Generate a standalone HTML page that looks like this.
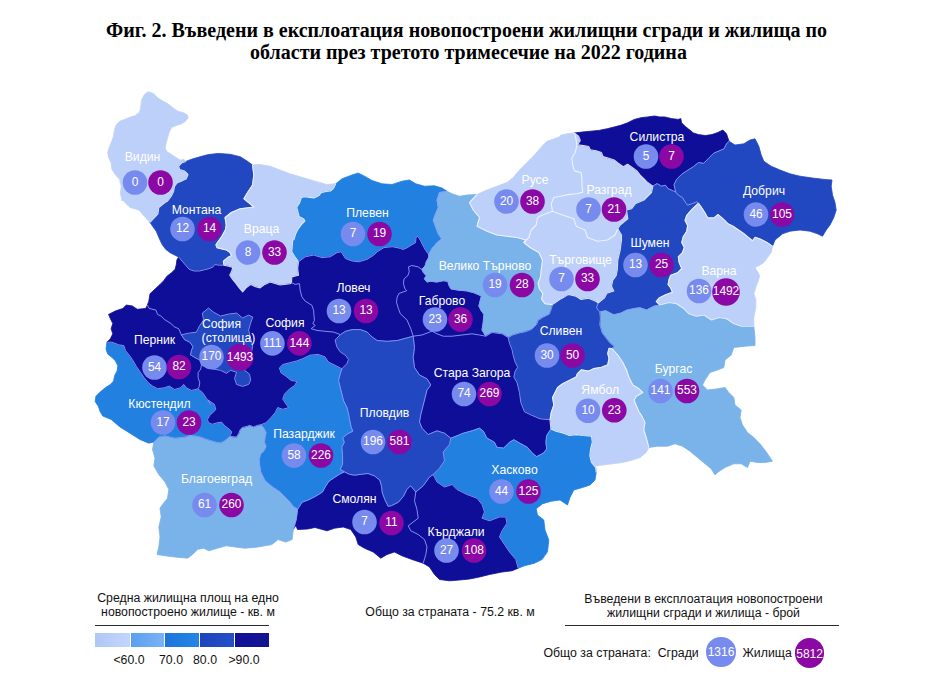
<!DOCTYPE html>
<html><head><meta charset="utf-8"><style>
html,body{margin:0;padding:0;background:#fff}
body{width:947px;height:687px;position:relative;overflow:hidden;font-family:"Liberation Sans",sans-serif}
.t{position:absolute;left:0;width:947px;text-align:center;font-family:"Liberation Serif",serif;font-weight:bold;font-size:20px;color:#000;white-space:nowrap}
svg{position:absolute;left:0;top:0}
.r{stroke-width:.8;stroke-linejoin:round}
.c1{fill:#bdd0f9;stroke:#bdd0f9}.c2{fill:#79b3ea;stroke:#79b3ea}.c3{fill:#2180e0;stroke:#2180e0}.c4{fill:#2148c0;stroke:#2148c0}.c5{fill:#0e0e98;stroke:#0e0e98}
.bd{fill:none;stroke:#8c9af8;stroke-opacity:.9;stroke-width:1;stroke-linejoin:round}
.bl{fill:none;stroke:#f4f7ff;stroke-opacity:.85;stroke-width:1.1;stroke-linejoin:round}
.k1{fill:#778bef}.k2{fill:#8c08a4}
.lb{font-size:12.2px;fill:#fff;text-anchor:middle}
.nm{font-size:11.9px;fill:#fff;text-anchor:middle}
.s{position:absolute;font-size:12.3px;color:#111;white-space:nowrap;text-align:center}
.ln{position:absolute;height:1.3px;background:#2b2b2b}
.sw{position:absolute;top:633px;height:14px}
.cc{position:absolute;border-radius:50%;color:#fff;font-size:12px;text-align:center}
</style></head><body>
<div class="t" style="top:18.5px;left:-7px">Фиг. 2. Въведени в експлоатация новопостроени жилищни сгради и жилища по</div>
<div class="t" style="top:40.5px;left:-5px">области през третото тримесечие на 2022 година</div>
<svg width="947" height="687" viewBox="0 0 947 687" font-family="Liberation Sans, sans-serif">
<polygon class="r c1" points="185.9,161.4 182.1,162.7 178.7,166.1 179.5,169.5 184.6,171.1 188,174.5 186.3,178.8 181.2,181.3 177,183 174.5,186.4 173.6,191.4 171.1,196.5 167.7,201 165,202.5 158.8,207.5 158,213.8 150,222.5 138.8,210 130,207.5 122.5,200 122.1,201 120.4,193.1 121.2,186.4 119.6,179.6 115.3,174.5 112,169.5 111.1,162.7 108.6,157.6 107.7,152.6 109.4,146.7 112,140.7 113.6,135.7 114.5,129.8 116.2,124.7 119.6,121.3 126.3,118.8 130.5,117.1 135.6,115.4 139.8,112 140.7,107 141.5,100.2 144.1,95.1 146.6,92.6 148.3,91.8 153.3,93.4 157.6,97.7 162.6,101 167.7,103.6 172.8,107.8 177.8,111.2 183.8,112.9 187.6,115.1 188,117.9 185.4,121.3 181.2,123.9 176.1,125.5 171.9,127.2 169.4,131.5 167.7,137.4 166,143.3 165.2,148.3 166.9,151.7 171.1,154.3 176.1,157.6 180.4,160.2 183.8,159.3"/>
<polygon class="r c4" points="150,222.5 158,213.8 158.8,207.5 165,202.5 167.7,201 171.1,196.5 173.6,191.4 174.5,186.4 177,183 181.2,181.3 186.3,178.8 188,174.5 184.6,171.1 179.5,169.5 178.7,166.1 182.1,162.7 185.9,161.4 191.4,159.3 199.8,156.8 208.2,154.6 218.4,153.4 230.2,154.3 240.3,156.8 247.1,161 252.5,165 253.8,175 252.5,185 247.5,192.5 243.8,198.8 250,203.8 253.8,207 240,208.8 231.2,212.5 225,217.5 226.2,225 225.4,229.7 221.7,236.6 218.2,241.3 215.9,244.8 217,247.7 221.7,248.9 226.4,250 229.8,252.4 231.6,255.5 227.5,257.6 223.4,261.1 223.8,265.2 219.4,265.2 214.7,264.6 213,266.9 208.9,268.7 204.2,269.8 199.6,271 193.8,271 189.1,269.2 185.6,265.2 182.1,261.1 178.6,257 175.1,255.3 170.5,252.9 165.8,249.4 162.3,244.8 160,240.1 156.2,231.2"/>
<polygon class="r c1" points="223.8,265.2 223.4,261.1 227.5,257.6 231.6,255.5 229.8,252.4 226.4,250 221.7,248.9 217,247.7 215.9,244.8 218.2,241.3 221.7,236.6 225.4,229.7 226.2,225 225,217.5 231.2,212.5 240,208.8 253.8,207 250,203.8 243.8,198.8 247.5,192.5 252.5,185 253.8,175 252.5,165 260,164.5 270,166.2 280,170 290,173.8 302.5,177.5 315,181.2 326.8,184.5 335.8,183.8 333.4,188.6 330.5,191 325.9,191.5 321.2,192.7 318.9,195.6 314.2,197.9 309.6,197.4 304.9,196.8 301.4,197.4 299.7,202.6 296.8,207.3 297.9,211.9 299.1,216.6 303.8,218.9 304.9,221.2 301.4,224.7 297.9,229.4 295.6,234 293.9,239.8 292.7,240 291.8,251.8 294.9,256.8 298.5,261.8 297.7,268.5 298.5,275.2 291.8,276.9 291.5,282.7 290,283.8 280,285 270,282 264.8,284.4 260.1,287.9 255.5,286.7 250.8,284.4 246.1,287.9 242.7,291.9 239.2,287.9 235.7,283.2 232.8,279.7 229.8,275.1 231.6,271.6 232.8,267.5 228.7,266.3"/>
<polygon class="r c3" points="298.5,261.8 294.9,256.8 291.8,251.8 292.7,240 293.9,239.8 295.6,234 297.9,229.4 301.4,224.7 304.9,221.2 303.8,218.9 299.1,216.6 297.9,211.9 296.8,207.3 299.7,202.6 301.4,197.4 304.9,196.8 309.6,197.4 314.2,197.9 318.9,195.6 321.2,192.7 325.9,191.5 330.5,191 333.4,188.6 335.8,183.8 342,178.8 352,175 358.2,173 364.5,176.2 372,180.5 382,183.8 392,184.5 402,181.2 409.5,180 415.8,183.8 424.5,186.2 434.5,185.8 442,188 447,191.2 439.5,192.5 437,200 438.2,207.5 435.7,213.5 433.2,220.3 435.7,227 438.2,233.8 441.6,238.9 437.4,242.2 432.3,248.1 428.7,254.5 425.6,250.3 423.1,245.8 420.6,240.8 418,236.3 416.1,237 415.5,242.7 411.1,245.2 407.2,247.7 402.8,249.6 400.6,248.4 392.3,246.7 383.9,247.6 377.2,251.8 373.8,255.1 367.2,259.3 358.8,261.8 352.1,261 345.4,258.5 341.2,251.8 337,252.6 330.3,256.8 322,257.6 313.6,255.1 305.2,256.8"/>
<polygon class="r c5" points="298.5,261.8 305.2,256.8 313.6,255.1 322,257.6 330.3,256.8 337,252.6 341.2,251.8 345.4,258.5 352.1,261 358.8,261.8 367.2,259.3 373.8,255.1 377.2,251.8 383.9,247.6 392.3,246.7 400.6,248.4 402.8,249.6 407.2,247.7 411.1,245.2 415.5,242.7 416.1,237 418,236.3 420.6,240.8 423.1,245.8 425.6,250.3 428.7,254.5 428.8,257.2 426.3,261.7 425,266.1 421.8,269.3 418,266.8 411.7,265.5 408.5,266.8 409.2,271.8 407.9,275.6 404.1,278.8 403.4,283.2 404.7,288.3 406.6,290.8 399,293.4 397.1,297.2 396.5,302.2 398.4,308.6 400.3,313.7 407,320 410.8,328.8 413.2,336.2 397.3,340.5 387.2,341.3 377.2,340.5 372.2,337.1 367.2,332.1 360.5,329.6 352.1,329.6 345.4,331.3 340.4,334.6 333.7,332.1 325.3,331.3 316.9,330.4 311.1,328.7 315.3,325.4 312.8,323.7 314.4,320.4 313.6,310.3 311.9,305.3 305.2,301.1 301.9,296.9 300.2,290.3 299.4,283.6 295.2,284.4 291.5,282.7 291.8,276.9 298.5,275.2 297.7,268.5"/>
<polygon class="r c5" points="413.2,336.2 410.8,328.8 407,320 400.3,313.7 398.4,308.6 396.5,302.2 397.1,297.2 399,293.4 406.6,290.8 404.7,288.3 403.4,283.2 404.1,278.8 407.9,275.6 409.2,271.8 408.5,266.8 411.7,265.5 418,266.8 421.8,269.3 423.7,273.1 426.3,275.6 424.4,278.8 426.9,282 430.7,281.3 437,282 443.4,280.7 447.8,281.3 449.1,285.8 451,288.9 458.6,290.2 466.2,290.8 473.8,292.7 481.4,295.9 480.1,301 478.9,306 481.4,311.1 483.9,314.3 483.2,322.5 482,330 485.8,336.2 479.5,335 472,333.8 462,335 452,336.2 443.2,336.2 437,333.8 432,331.2 422,335"/>
<polygon class="r c2" points="428.7,254.5 432.3,248.1 437.4,242.2 441.6,238.9 438.2,233.8 435.7,227 433.2,220.3 435.7,213.5 438.2,207.5 437,200 439.5,192.5 447,191.2 452,193.8 459.5,196.2 467,195 477,194.5 469.5,202.5 473.2,210 479.5,217.5 477,226.2 487,231.2 497,235 507,236.2 517,237.5 525.8,240 523.8,242.5 530,247.5 538.8,252.5 542.5,260 541.2,270 540.5,277 538.1,282.8 539.3,288.6 542.8,293.3 541.6,299.1 545.1,303.8 552.5,304.6 551.3,309 549.4,314.1 543.1,317.2 538,320.4 536.8,324.2 531.7,329.3 525.3,331.8 519,333.1 512.7,335 508.2,337.5 502,333.8 492,332.5 485.8,336.2 482,330 483.2,322.5 483.9,314.3 481.4,311.1 478.9,306 480.1,301 481.4,295.9 473.8,292.7 466.2,290.8 458.6,290.2 451,288.9 449.1,285.8 447.8,281.3 443.4,280.7 437,282 430.7,281.3 426.9,282 424.4,278.8 426.3,275.6 423.7,273.1 421.8,269.3 425,266.1 426.3,261.7 428.8,257.2"/>
<polygon class="r c1" points="523.8,242.5 525.8,240 517,237.5 507,236.2 497,235 487,231.2 477,226.2 479.5,217.5 473.2,210 469.5,202.5 477,194.5 487,190 497,186.2 507,182.5 513.2,177.5 519.5,170 527,162.5 534.5,155 542,146.2 547,141.2 554.5,138.8 563.8,135 560,135.5 566.8,133.8 574.4,132.9 576,138.9 576.9,145.6 575.2,152.4 571.8,158.3 572.7,165 574.4,170.9 581.1,172.6 582,179.4 582,186.1 582.8,192.1 576.9,193.8 568.4,194.6 553.8,197.5 551.2,203.8 552.5,211.2 542.5,215 537.5,217.5 536.2,225 531.2,230 528.8,237.5"/>
<polygon class="r c1" points="552.5,211.2 551.2,203.8 553.8,197.5 568.4,194.6 576.9,193.8 582.8,192.1 582,186.1 582,179.4 581.1,172.6 574.4,170.9 572.7,165 571.8,158.3 575.2,152.4 576.9,145.6 576,138.9 574.4,132.9 578.6,136.3 580.3,140.5 577.7,144.8 583.6,145.6 588.7,146.5 590.4,149.8 596.3,150.7 601.4,152.4 603.1,156.6 609,158.3 614.1,160 618.3,163.3 623.3,166.7 627.6,164.2 632.6,167.6 636.9,170.9 640.2,175.2 643.6,178.5 647,181.9 650.4,184.5 652.9,186.1 651.5,192.5 644,200 635.2,203.8 631.5,208.8 626.5,210 627.8,218.8 620.2,225 617.8,228.8 615,235 607.5,240 597.5,241.2 587.5,237.5 585,230 576.2,226.2 573.8,218.8 562.5,215"/>
<polygon class="r c1" points="523.8,242.5 528.8,237.5 531.2,230 536.2,225 537.5,217.5 542.5,215 552.5,211.2 562.5,215 573.8,218.8 576.2,226.2 585,230 587.5,237.5 597.5,241.2 607.5,240 615,235 617.8,228.8 621.5,235 621.5,240 620.2,250 617.8,260 617.3,270 616.1,275.8 612.7,280.5 611.5,286.3 613.8,291 606.8,293.3 604.5,297.9 598.1,303 596.3,301.4 588.7,298.2 581.1,299.5 576,296.3 568.4,294.4 563.4,297.6 559.6,299.5 552.5,304.6 545.1,303.8 541.6,299.1 542.8,293.3 539.3,288.6 538.1,282.8 540.5,277 541.2,270 542.5,260 538.8,252.5 530,247.5"/>
<polygon class="r c5" points="652.9,186.1 650.4,184.5 647,181.9 643.6,178.5 640.2,175.2 636.9,170.9 632.6,167.6 627.6,164.2 623.3,166.7 618.3,163.3 614.1,160 609,158.3 603.1,156.6 601.4,152.4 596.3,150.7 590.4,149.8 588.7,146.5 583.6,145.6 577.7,144.8 580.3,140.5 578.6,136.3 574.4,132.9 582,132.1 590.4,131.2 598.9,130.4 607.3,128.7 614.1,127 620.8,125.3 627.6,122.8 634.3,119.4 641.1,117.7 647.8,116.9 654.6,116 659.7,116.9 664.7,116.9 671.5,118.6 678.2,119.4 680.8,118.6 681.6,122.8 685,126.2 689.2,129.6 693.4,132.9 698.5,134.6 705.3,135.5 712,134.6 717.8,132.5 722.8,130 726.5,133.8 729,141.2 726.5,143.8 724,148.8 713.7,153.2 708.6,158.3 703.6,163.3 698.5,162.5 693.4,166.7 686.7,170.9 681.6,174.3 676.6,179.4 674,184.5 675.7,192.1 672.3,190.4 668.1,188.7 665.6,185.3 661.4,186.1 657.1,183.6"/>
<polygon class="r c4" points="675.7,192.1 674,184.5 676.6,179.4 681.6,174.3 686.7,170.9 693.4,166.7 698.5,162.5 703.6,163.3 708.6,158.3 713.7,153.2 724,148.8 726.5,143.8 729,141.2 735,145 743.8,143.8 750,140 755,138.8 758.8,146.2 761.2,155 763.8,161.2 771.2,166.2 780,170 790,173.8 800,176.2 812.5,178 825,179.5 832,180 831.2,186.2 832.5,195 835,202.5 836.2,210 833.8,217.5 830,225 826.2,230 822.5,236.2 817.5,233.8 810,231.2 800,230 790,231.2 782.5,233.8 775,240 772.5,246.2 767,242.4 760.2,239 755.1,237.3 752.6,240.7 748.4,237.3 743.3,233.1 738.2,229.7 733.2,226.3 728.1,223.8 723,218.7 718,214.5 713.8,217.9 707.8,217.9 704.5,212 701.1,206.9 698.5,203.2 696.9,201.8 692.6,203.5 687.6,205.2 685,201.8 682.5,197.6 678.3,195.1"/>
<polygon class="r c4" points="652.9,186.1 657.1,183.6 661.4,186.1 665.6,185.3 668.1,188.7 672.3,190.4 675.7,192.1 678.3,195.1 682.5,197.6 685,201.8 687.6,205.2 692.6,203.5 696.9,201.8 698.5,203.2 692.6,208.6 686.7,215.3 685,220.4 687.6,225.5 686.7,231.4 683.3,236.5 681.7,242.4 684.2,247.4 682.5,252.5 678.3,256.7 679.1,262.6 681.7,268.5 677.4,272.8 670.7,275.3 669,279.5 668.1,284.6 670.7,288 672.4,292.2 665.6,294.7 658.9,298.1 656.3,301.5 659.8,305 654,306.2 646.5,310 640,307.8 634.8,308.4 626.6,310.2 620.8,313.1 613.8,314.8 610.3,313.1 605.7,310.7 599.8,311.9 598.1,310.2 596.6,307.3 598.1,303 604.5,297.9 606.8,293.3 613.8,291 611.5,286.3 612.7,280.5 616.1,275.8 617.3,270 617.8,260 620.2,250 621.5,240 621.5,235 617.8,228.8 620.2,225 627.8,218.8 626.5,210 631.5,208.8 635.2,203.8 644,200 651.5,192.5"/>
<polygon class="r c1" points="698.5,203.2 701.1,206.9 704.5,212 707.8,217.9 713.8,217.9 718,214.5 723,218.7 728.1,223.8 733.2,226.3 738.2,229.7 743.3,233.1 748.4,237.3 752.6,240.7 755.1,237.3 760.2,239 767,242.4 772.5,246.2 771.2,252.5 767.5,257.5 763.8,262.5 760,265 755,267.5 757.7,272 759.6,275.8 758.3,280.8 755.8,287.2 753.9,293.5 755.8,299.8 755.8,307.1 753.8,317.5 753.8,326.2 741.5,326.2 734,323.8 726.5,318.8 719,317.5 711.5,320 704,315 696.5,316.2 689,313.8 684,308.8 676.5,303.8 669,302.5 659.8,305 656.3,301.5 658.9,298.1 665.6,294.7 672.4,292.2 670.7,288 668.1,284.6 669,279.5 670.7,275.3 677.4,272.8 681.7,268.5 679.1,262.6 678.3,256.7 682.5,252.5 684.2,247.4 681.7,242.4 683.3,236.5 686.7,231.4 687.6,225.5 685,220.4 686.7,215.3 692.6,208.6"/>
<polygon class="r c2" points="659.8,305 669,302.5 676.5,303.8 684,308.8 689,313.8 696.5,316.2 704,315 711.5,320 719,317.5 726.5,318.8 734,323.8 741.5,326.2 753.8,326.2 755,337.5 755,345.5 745,346.2 733.8,347.5 731.2,355 725,360 723.8,367.5 717.5,370 710,372.5 705,380 702.5,385 707.5,390 717.5,388.8 725,387.5 728.8,392.5 733.8,397.5 735,405 741.2,410 740,417.5 742.5,425 747.5,432.5 753.8,437.5 760,443.8 766.2,451.8 772.5,461.2 765,462.5 757.5,462.5 750,461.2 747.5,467.5 741.2,463.8 733.8,463.8 725,467.5 717.5,472.5 715,475 711.2,468.8 705,463.8 697.5,457.5 690,451.2 682.5,446.2 675,443.8 667.5,446.2 657.5,446.2 648.8,447.5 646.2,437.5 643.8,430 645,422.5 641.2,415 639,411.8 636.5,406.2 634,400 636.5,396.2 642.8,392.5 639,388.8 632.8,385 629,377.5 626.5,370 622.8,362.5 617.8,355 611.9,348.6 614,346.2 610.3,343.3 605.7,337.5 602.2,332.9 599.8,324.7 600.4,318.9 599.8,311.9 605.7,310.7 610.3,313.1 613.8,314.8 620.8,313.1 626.6,310.2 634.8,308.4 640,307.8 646.5,310 654,306.2"/>
<polygon class="r c4" points="552.5,304.6 559.6,299.5 563.4,297.6 568.4,294.4 576,296.3 581.1,299.5 588.7,298.2 596.3,301.4 598.1,303 596.6,307.3 598.1,310.2 599.8,311.9 600.4,318.9 599.8,324.7 602.2,332.9 605.7,337.5 610.3,343.3 614,346.2 611.9,348.6 609,348.3 607.7,353.4 609,358.4 607.7,364.8 601.4,367.3 593.8,368.6 588.7,371.1 581.1,369.8 577.3,373.7 576,377.1 562.5,383.8 557.5,387.5 555,392.5 552.5,397.5 553.8,405 551.2,412.5 550,419.8 540,418.8 530,414.5 524.5,411.8 520.8,402.5 519.5,392.5 517,382.5 513.9,377.1 515.2,371.1 517.7,367.3 515.2,362.2 513.3,355.9 512,349.6 509.5,343.2 508.2,337.5 512.7,335 519,333.1 525.3,331.8 531.7,329.3 536.8,324.2 538,320.4 543.1,317.2 549.4,314.1 551.3,309"/>
<polygon class="r c1" points="550,419.8 551.2,412.5 553.8,405 552.5,397.5 555,392.5 557.5,387.5 562.5,383.8 576,377.1 577.3,373.7 581.1,369.8 588.7,371.1 593.8,368.6 601.4,367.3 607.7,364.8 609,358.4 607.7,353.4 609,348.3 611.9,348.6 617.8,355 622.8,362.5 626.5,370 629,377.5 632.8,385 639,388.8 642.8,392.5 636.5,396.2 634,400 636.5,406.2 639,411.8 641.2,415 645,422.5 643.8,430 646.2,437.5 648.8,447.5 646.2,452.5 640,457.5 632.5,460 622.5,462.5 612.5,463.8 602.5,465 593.8,466.2 596.2,472.5 595.7,467.6 591.5,462.5 589.8,455.7 590.6,449 592.3,442.2 591.5,436.3 583,435.5 576.3,434.6 569.5,435.5 562.8,432.9 556,431.2 550.9,429.1"/>
<polygon class="r c5" points="413.2,336.2 422,335 432,331.2 437,333.8 443.2,336.2 452,336.2 462,335 472,333.8 479.5,335 485.8,336.2 492,332.5 502,333.8 508.2,337.5 509.5,343.2 512,349.6 513.3,355.9 515.2,362.2 517.7,367.3 515.2,371.1 513.9,377.1 517,382.5 519.5,392.5 520.8,402.5 524.5,411.8 530,414.5 540,418.8 550,419.8 550.9,429.1 546.7,435.5 545.9,442.2 546.7,449 543.3,453.2 536.6,456.6 532.4,453.2 527.3,447.3 519.7,443.1 513.8,439.7 509.6,442.2 503.6,448.1 496.9,447.3 494.4,442.2 486.8,438 483.4,431.2 479.5,428.2 472,430.8 463.2,433.2 457,435.8 450.8,438.2 444.5,433.2 437,430.8 428.2,434.5 422,428.2 419.5,422 420.8,414.5 424.5,400 427,390 430.8,385 427,378.8 419.5,375 414.5,367.5 413.2,357.5 414.5,347.5"/>
<polygon class="r c3" points="450.8,438.2 457,435.8 463.2,433.2 472,430.8 479.5,428.2 483.4,431.2 486.8,438 494.4,442.2 496.9,447.3 503.6,448.1 509.6,442.2 513.8,439.7 519.7,443.1 527.3,447.3 532.4,453.2 536.6,456.6 543.3,453.2 546.7,449 545.9,442.2 546.7,435.5 550.9,429.1 556,431.2 562.8,432.9 569.5,435.5 576.3,434.6 583,435.5 591.5,436.3 592.3,442.2 590.6,449 589.8,455.7 591.5,462.5 595.7,467.6 596.2,472.5 595,480 590,485 582.5,487.5 573.8,490 570,497.5 567.5,505 560,500 551.2,501.2 542.5,503.8 536.2,508.8 537.5,515 543.8,520 545,530 548.8,540 547.5,551.8 542,559.5 534.5,563.2 524.5,565.8 518.2,568.2 515.8,559.5 509.5,552 504.5,544.5 499.5,537 502,530.8 507,523.2 505.8,517 499.5,517 489.5,520.8 482,518.2 484.5,512 482,504.5 477,498.2 467,494.5 457,489.5 452,484.5 444.5,487 437,482 433.2,474.5 439.5,468.2 444.5,460.8 443.2,452 449.5,444.5"/>
<polygon class="r c5" points="433.2,474.5 437,482 444.5,487 452,484.5 457,489.5 467,494.5 477,498.2 482,504.5 484.5,512 482,518.2 489.5,520.8 499.5,517 505.8,517 507,523.2 502,530.8 499.5,537 504.5,544.5 509.5,552 515.8,559.5 518.2,568.2 512,570.8 502,572 489.5,574.5 479.5,577 469.5,579 459.5,580 449.5,580.8 439.5,579.5 434.5,574.5 429.5,567 423.2,563.2 425.8,554.5 427,547 424.5,539.5 418.2,534.5 410.8,530.8 408.2,525.8 413.2,522 418.2,518.2 417,509.5 414.5,500.8 415.8,492 423.2,485.8 429.5,477"/>
<polygon class="r c5" points="415.8,492 414.5,500.8 417,509.5 418.2,518.2 413.2,522 408.2,525.8 410.8,530.8 418.2,534.5 424.5,539.5 427,547 425.8,554.5 423.2,563.2 412,559.5 402,555.8 394.5,552 387,554.5 380.8,558.2 373.2,552 364.5,548.2 358.2,544.5 355.8,537 350.8,529.5 343.2,527 334.5,528.2 327,530.8 315,527.5 307.5,529 297.5,529.5 295.9,525.6 293.3,529.4 296.2,519.5 297.6,509.2 302.1,502.2 308.9,499.7 315.6,496.3 322.4,492.1 325.7,486.1 329.1,481.1 334.2,477.7 339.3,474.3 344.3,471.8 349.4,474.3 354.5,475.2 361.2,474.3 368,473.5 374.7,476 379.8,480.2 381.5,486.1 382.3,492.9 384.9,499.7 388.2,506.4 391.6,505.6 398.4,502.2 403.4,496.3 406.8,489.5 410.2,486.1 410.8,485.8"/>
<polygon class="r c4" points="340.4,334.6 345.4,331.3 352.1,329.6 360.5,329.6 367.2,332.1 372.2,337.1 377.2,340.5 387.2,341.3 397.3,340.5 413.2,336.2 414.5,347.5 413.2,357.5 414.5,367.5 419.5,375 427,378.8 430.8,385 427,390 424.5,400 420.8,414.5 419.5,422 422,428.2 428.2,434.5 437,430.8 444.5,433.2 450.8,438.2 449.5,444.5 443.2,452 444.5,460.8 439.5,468.2 433.2,474.5 429.5,477 423.2,485.8 415.8,492 410.8,485.8 410.2,486.1 406.8,489.5 403.4,496.3 398.4,502.2 391.6,505.6 388.2,506.4 384.9,499.7 382.3,492.9 381.5,486.1 379.8,480.2 374.7,476 368,473.5 361.2,474.3 354.5,475.2 349.4,474.3 344.3,471.8 340.1,469.3 342.6,464.2 342.6,455.7 341.8,447.3 344.3,442.2 342.6,438 347.7,433.8 352.8,431.2 351.1,427 349.4,418.6 348.6,414.3 347,407.6 343.6,400.8 341.9,394.1 340.2,387.3 338.5,380.5 340.2,373.8 341.9,368.7 347,363.6 348.6,359.4 345.3,355.2 340.2,351.8 336.8,346.8 335.1,340"/>
<polygon class="r c3" points="260.7,424.8 265.9,422.8 270.9,417.7 275.2,412.6 277.7,407.6 282.8,409.3 288.7,407.6 286.1,404.2 282.8,399.1 284.5,394.1 289.5,389 294.6,385.6 297.1,381.4 291.2,380.5 286.1,376.3 281.1,372.9 279.4,367.9 282.8,364.5 289.5,362.8 296.3,361.1 303,358.6 309.8,355.2 318.2,354.4 325,356.9 328.4,362 335.1,365.3 340.2,367.9 341.9,368.7 340.2,373.8 338.5,380.5 340.2,387.3 341.9,394.1 343.6,400.8 347,407.6 348.6,414.3 349.4,418.6 351.1,427 352.8,431.2 347.7,433.8 342.6,438 344.3,442.2 341.8,447.3 342.6,455.7 342.6,464.2 340.1,469.3 344.3,471.8 339.3,474.3 334.2,477.7 329.1,481.1 325.7,486.1 322.4,492.1 315.6,496.3 308.9,499.7 302.1,502.2 297.6,509.2 293.8,507 287.5,499.5 280,492 272.5,487 265,480.8 260.7,472 259.7,465.5 259.2,459.1 260.7,453.9 263.9,450.7 266,446.5 264.4,442.2 265,437 266,432.7 263.9,428.5"/>
<polygon class="r c2" points="153.8,442 158.8,437 165,435.8 175,438.2 185,437 190,435.4 195.3,435.9 200.6,437 205.8,439.1 211.1,440.7 216.4,442.2 220.6,442.8 223.8,441.2 227,439.1 229.6,436.4 236.5,437 238.6,433.8 240.2,429.6 242.3,427.5 247,426.4 249.7,425.3 253.4,426.9 257.6,425.3 260.7,424.8 263.9,428.5 266,432.7 265,437 264.4,442.2 266,446.5 263.9,450.7 260.7,453.9 259.2,459.1 259.7,465.5 260.7,472 265,480.8 272.5,487 280,492 287.5,499.5 293.8,507 297.6,509.2 296.2,519.5 293.3,529.4 292.1,539.6 285.7,542.1 278.1,539.6 271.8,544.6 256.6,547.2 245,548.2 235,547 226.2,545.8 217.5,548.2 208.8,550.8 203.8,548.2 197.5,549.5 192.5,554.5 187.5,558.2 175,557 165,555.8 157,554.5 158.8,547 160,537 158.8,527 161.2,517 160,508.2 162.5,504.5 167.5,498.2 168.8,489.5 165,482 158.8,474.5 153.8,465.8 155,458.2 152.5,449.5"/>
<polygon class="r c3" points="106.9,342.2 112,342.2 118.7,344.8 123.8,345.6 125.5,350.7 129.7,355.7 133.1,360.8 136.5,366.7 140.7,372.6 144.1,377.7 148.3,382.8 152.5,386.1 157.6,388.7 164.3,387.8 169.4,386.1 174.5,389.5 180.4,387.8 183.8,384.5 186.3,387.8 191.4,390.4 197.9,388.9 202.4,392.4 206.5,398.4 210.5,404.5 208,400 214.3,404.2 215.9,409.5 212.7,412.7 210.1,414.8 207.4,419.5 208.5,422.7 212.2,424.3 217.5,422.7 221.7,422.2 224.8,425.9 229.1,429 231.7,431.7 230.7,434.8 229.6,436.4 227,439.1 223.8,441.2 220.6,442.8 216.4,442.2 211.1,440.7 205.8,439.1 200.6,437 195.3,435.9 190,435.4 185,437 175,438.2 165,435.8 158.8,437 153.8,442 148.8,443.2 140,439.5 130,433.2 120,427 111.2,419.5 102.7,416 100.1,411.5 98.4,406.4 95.1,401.4 95.9,396.3 100.1,392.1 105.2,387.8 110.3,384.5 113.6,381.1 114.5,376 117,370.9 117.9,365.9 115.3,360.8 112,357.4 107.7,354.1 106,349"/>
<polygon class="r c5" points="147.4,305.1 149.1,308.4 155.9,310.1 157.6,314.4 160.9,316 164.3,319.4 171.1,323.6 174.5,327 178.7,328.7 181.3,334.8 184.6,339.7 189.7,342.2 193,346.5 191.4,350.7 190.5,354.9 194.7,357.4 199.8,360 201.5,365.1 200.6,369.3 198.1,372.6 198.1,377.7 199.8,382.8 199,387 197.9,388.9 191.4,390.4 186.3,387.8 183.8,384.5 180.4,387.8 174.5,389.5 169.4,386.1 164.3,387.8 157.6,388.7 152.5,386.1 148.3,382.8 144.1,377.7 140.7,372.6 136.5,366.7 133.1,360.8 129.7,355.7 125.5,350.7 123.8,345.6 118.7,344.8 112,342.2 106.9,342.2 110.3,338.9 112.8,333.8 111.1,328.7 112.8,323.6 110.3,318.6 108.6,314.4 115.3,311 122.9,308.4 126.3,305.1 132.2,305.9 137.3,309.3 145.7,308.4"/>
<polygon class="r c4" points="181.3,334.8 188.4,333.2 196.4,332.2 199.4,326.1 203.5,320.1 202.4,313.1 208.5,308.1 213.5,312.1 220.5,316.1 228.6,314.1 236.6,313.1 242.6,318.1 248.6,315.1 252.7,317.1 250.6,323.1 248.6,330.2 250.6,338.2 252.7,346.2 250.6,356.3 246.6,364.3 244.6,370.3 249.6,374.3 250.6,380.4 248.6,384.4 242.6,386.4 236.6,384.4 234.6,378.4 236.6,372.3 230.6,370.3 226.5,373.3 220.5,370.3 214.5,369.3 208.5,368.3 201.5,365.1 199.8,360 194.7,357.4 190.5,354.9 191.4,350.7 193,346.5 189.7,342.2 184.6,339.7"/>
<polygon class="r c5" points="178.6,257 182.1,261.1 185.6,265.2 189.1,269.2 193.8,271 199.6,271 204.2,269.8 208.9,268.7 213,266.9 214.7,264.6 219.4,265.2 223.8,265.2 228.7,266.3 232.8,267.5 231.6,271.6 229.8,275.1 232.8,279.7 235.7,283.2 239.2,287.9 242.7,291.9 246.1,287.9 250.8,284.4 255.5,286.7 260.1,287.9 264.8,284.4 270,282 280,285 290,283.8 291.5,282.7 295.2,284.4 299.4,283.6 300.2,290.3 301.9,296.9 305.2,301.1 311.9,305.3 313.6,310.3 314.4,320.4 312.8,323.7 315.3,325.4 311.1,328.7 316.9,330.4 325.3,331.3 333.7,332.1 340.4,334.6 335.1,340 336.8,346.8 340.2,351.8 345.3,355.2 348.6,359.4 347,363.6 341.9,368.7 340.2,367.9 335.1,365.3 328.4,362 325,356.9 318.2,354.4 309.8,355.2 303,358.6 296.3,361.1 289.5,362.8 282.8,364.5 279.4,367.9 281.1,372.9 286.1,376.3 291.2,380.5 297.1,381.4 294.6,385.6 289.5,389 284.5,394.1 282.8,399.1 286.1,404.2 288.7,407.6 282.8,409.3 277.7,407.6 275.2,412.6 270.9,417.7 265.9,422.8 260.7,424.8 257.6,425.3 253.4,426.9 249.7,425.3 247,426.4 242.3,427.5 240.2,429.6 238.6,433.8 236.5,437 229.6,436.4 230.7,434.8 231.7,431.7 229.1,429 224.8,425.9 221.7,422.2 217.5,422.7 212.2,424.3 208.5,422.7 207.4,419.5 210.1,414.8 212.7,412.7 215.9,409.5 214.3,404.2 208,400 210.5,404.5 206.5,398.4 202.4,392.4 197.9,388.9 199,387 199.8,382.8 198.1,377.7 198.1,372.6 200.6,369.3 201.5,365.1 208.5,368.3 214.5,369.3 220.5,370.3 226.5,373.3 230.6,370.3 236.6,372.3 234.6,378.4 236.6,384.4 242.6,386.4 248.6,384.4 250.6,380.4 249.6,374.3 244.6,370.3 246.6,364.3 250.6,356.3 252.7,346.2 250.6,338.2 248.6,330.2 250.6,323.1 252.7,317.1 248.6,315.1 242.6,318.1 236.6,313.1 228.6,314.1 220.5,316.1 213.5,312.1 208.5,308.1 202.4,313.1 203.5,320.1 199.4,326.1 196.4,332.2 188.4,333.2 181.3,334.8 178.7,328.7 174.5,327 171.1,323.6 164.3,319.4 160.9,316 157.6,314.4 155.9,310.1 149.1,308.4 147.4,305.1 148.8,301.2 150,293.8 160,284.4 163.5,280.9 167,276.2 171.6,272.7 175.1,269.2 176.3,264.6 176.9,259.9"/>
<polyline class="bl" points="185.9,161.4 182.1,162.7 178.7,166.1 179.5,169.5 184.6,171.1 188,174.5 186.3,178.8 181.2,181.3 177,183 174.5,186.4 173.6,191.4 171.1,196.5 167.7,201 165,202.5 158.8,207.5 158,213.8 150,222.5"/>
<polyline class="bl" points="252.5,165 253.8,175 252.5,185 247.5,192.5 243.8,198.8 250,203.8 253.8,207 240,208.8 231.2,212.5 225,217.5 226.2,225 225.4,229.7 221.7,236.6 218.2,241.3 215.9,244.8 217,247.7 221.7,248.9 226.4,250 229.8,252.4 231.6,255.5 227.5,257.6 223.4,261.1 223.8,265.2"/>
<polyline class="bd" points="178.6,257 182.1,261.1 185.6,265.2 189.1,269.2 193.8,271 199.6,271 204.2,269.8 208.9,268.7 213,266.9 214.7,264.6 219.4,265.2 223.8,265.2"/>
<polyline class="bl" points="223.8,265.2 228.7,266.3 232.8,267.5 231.6,271.6 229.8,275.1 232.8,279.7 235.7,283.2 239.2,287.9 242.7,291.9 246.1,287.9 250.8,284.4 255.5,286.7 260.1,287.9 264.8,284.4 270,282 280,285 290,283.8 291.5,282.7"/>
<polyline class="bl" points="291.5,282.7 291.8,276.9 298.5,275.2 297.7,268.5 298.5,261.8"/>
<polyline class="bl" points="298.5,261.8 294.9,256.8 291.8,251.8 292.7,240 293.9,239.8 295.6,234 297.9,229.4 301.4,224.7 304.9,221.2 303.8,218.9 299.1,216.6 297.9,211.9 296.8,207.3 299.7,202.6 301.4,197.4 304.9,196.8 309.6,197.4 314.2,197.9 318.9,195.6 321.2,192.7 325.9,191.5 330.5,191 333.4,188.6 335.8,183.8"/>
<polyline class="bd" points="298.5,261.8 305.2,256.8 313.6,255.1 322,257.6 330.3,256.8 337,252.6 341.2,251.8 345.4,258.5 352.1,261 358.8,261.8 367.2,259.3 373.8,255.1 377.2,251.8 383.9,247.6 392.3,246.7 400.6,248.4 402.8,249.6 407.2,247.7 411.1,245.2 415.5,242.7 416.1,237 418,236.3 420.6,240.8 423.1,245.8 425.6,250.3 428.7,254.5"/>
<polyline class="bd" points="447,191.2 439.5,192.5 437,200 438.2,207.5 435.7,213.5 433.2,220.3 435.7,227 438.2,233.8 441.6,238.9 437.4,242.2 432.3,248.1 428.7,254.5"/>
<polyline class="bd" points="428.7,254.5 428.8,257.2 426.3,261.7 425,266.1 421.8,269.3"/>
<polyline class="bd" points="421.8,269.3 418,266.8 411.7,265.5 408.5,266.8 409.2,271.8 407.9,275.6 404.1,278.8 403.4,283.2 404.7,288.3 406.6,290.8 399,293.4 397.1,297.2 396.5,302.2 398.4,308.6 400.3,313.7 407,320 410.8,328.8 413.2,336.2"/>
<polyline class="bd" points="421.8,269.3 423.7,273.1 426.3,275.6 424.4,278.8 426.9,282 430.7,281.3 437,282 443.4,280.7 447.8,281.3 449.1,285.8 451,288.9 458.6,290.2 466.2,290.8 473.8,292.7 481.4,295.9 480.1,301 478.9,306 481.4,311.1 483.9,314.3 483.2,322.5 482,330 485.8,336.2"/>
<polyline class="bd" points="413.2,336.2 422,335 432,331.2 437,333.8 443.2,336.2 452,336.2 462,335 472,333.8 479.5,335 485.8,336.2"/>
<polyline class="bd" points="340.4,334.6 345.4,331.3 352.1,329.6 360.5,329.6 367.2,332.1 372.2,337.1 377.2,340.5 387.2,341.3 397.3,340.5 413.2,336.2"/>
<polyline class="bd" points="291.5,282.7 295.2,284.4 299.4,283.6 300.2,290.3 301.9,296.9 305.2,301.1 311.9,305.3 313.6,310.3 314.4,320.4 312.8,323.7 315.3,325.4 311.1,328.7 316.9,330.4 325.3,331.3 333.7,332.1 340.4,334.6"/>
<polyline class="bd" points="340.4,334.6 335.1,340 336.8,346.8 340.2,351.8 345.3,355.2 348.6,359.4 347,363.6 341.9,368.7"/>
<polyline class="bd" points="341.9,368.7 340.2,367.9 335.1,365.3 328.4,362 325,356.9 318.2,354.4 309.8,355.2 303,358.6 296.3,361.1 289.5,362.8 282.8,364.5 279.4,367.9 281.1,372.9 286.1,376.3 291.2,380.5 297.1,381.4 294.6,385.6 289.5,389 284.5,394.1 282.8,399.1 286.1,404.2 288.7,407.6 282.8,409.3 277.7,407.6 275.2,412.6 270.9,417.7 265.9,422.8 260.7,424.8"/>
<polyline class="bd" points="260.7,424.8 257.6,425.3 253.4,426.9 249.7,425.3 247,426.4 242.3,427.5 240.2,429.6 238.6,433.8 236.5,437 229.6,436.4"/>
<polyline class="bd" points="229.6,436.4 230.7,434.8 231.7,431.7 229.1,429 224.8,425.9 221.7,422.2 217.5,422.7 212.2,424.3 208.5,422.7 207.4,419.5 210.1,414.8 212.7,412.7 215.9,409.5 214.3,404.2 208,400 210.5,404.5 206.5,398.4 202.4,392.4 197.9,388.9"/>
<polyline class="bd" points="197.9,388.9 199,387 199.8,382.8 198.1,377.7 198.1,372.6 200.6,369.3 201.5,365.1"/>
<polyline class="bd" points="181.3,334.8 178.7,328.7 174.5,327 171.1,323.6 164.3,319.4 160.9,316 157.6,314.4 155.9,310.1 149.1,308.4 147.4,305.1"/>
<polyline class="bd" points="181.3,334.8 184.6,339.7 189.7,342.2 193,346.5 191.4,350.7 190.5,354.9 194.7,357.4 199.8,360 201.5,365.1"/>
<polyline class="bd" points="181.3,334.8 188.4,333.2 196.4,332.2 199.4,326.1 203.5,320.1 202.4,313.1 208.5,308.1 213.5,312.1 220.5,316.1 228.6,314.1 236.6,313.1 242.6,318.1 248.6,315.1 252.7,317.1 250.6,323.1 248.6,330.2 250.6,338.2 252.7,346.2 250.6,356.3 246.6,364.3 244.6,370.3 249.6,374.3 250.6,380.4 248.6,384.4 242.6,386.4 236.6,384.4 234.6,378.4 236.6,372.3 230.6,370.3 226.5,373.3 220.5,370.3 214.5,369.3 208.5,368.3 201.5,365.1"/>
<polyline class="bd" points="197.9,388.9 191.4,390.4 186.3,387.8 183.8,384.5 180.4,387.8 174.5,389.5 169.4,386.1 164.3,387.8 157.6,388.7 152.5,386.1 148.3,382.8 144.1,377.7 140.7,372.6 136.5,366.7 133.1,360.8 129.7,355.7 125.5,350.7 123.8,345.6 118.7,344.8 112,342.2 106.9,342.2"/>
<polyline class="bd" points="229.6,436.4 227,439.1 223.8,441.2 220.6,442.8 216.4,442.2 211.1,440.7 205.8,439.1 200.6,437 195.3,435.9 190,435.4 185,437 175,438.2 165,435.8 158.8,437 153.8,442"/>
<polyline class="bd" points="260.7,424.8 263.9,428.5 266,432.7 265,437 264.4,442.2 266,446.5 263.9,450.7 260.7,453.9 259.2,459.1 259.7,465.5 260.7,472 265,480.8 272.5,487 280,492 287.5,499.5 293.8,507 297.6,509.2"/>
<polyline class="bd" points="297.6,509.2 296.2,519.5 293.3,529.4"/>
<polyline class="bd" points="297.6,509.2 302.1,502.2 308.9,499.7 315.6,496.3 322.4,492.1 325.7,486.1 329.1,481.1 334.2,477.7 339.3,474.3 344.3,471.8"/>
<polyline class="bd" points="341.9,368.7 340.2,373.8 338.5,380.5 340.2,387.3 341.9,394.1 343.6,400.8 347,407.6 348.6,414.3 349.4,418.6 351.1,427 352.8,431.2 347.7,433.8 342.6,438 344.3,442.2 341.8,447.3 342.6,455.7 342.6,464.2 340.1,469.3 344.3,471.8"/>
<polyline class="bd" points="344.3,471.8 349.4,474.3 354.5,475.2 361.2,474.3 368,473.5 374.7,476 379.8,480.2 381.5,486.1 382.3,492.9 384.9,499.7 388.2,506.4 391.6,505.6 398.4,502.2 403.4,496.3 406.8,489.5 410.2,486.1 410.8,485.8 415.8,492"/>
<polyline class="bd" points="415.8,492 414.5,500.8 417,509.5 418.2,518.2 413.2,522 408.2,525.8 410.8,530.8 418.2,534.5 424.5,539.5 427,547 425.8,554.5 423.2,563.2"/>
<polyline class="bd" points="415.8,492 423.2,485.8 429.5,477 433.2,474.5"/>
<polyline class="bd" points="433.2,474.5 439.5,468.2 444.5,460.8 443.2,452 449.5,444.5 450.8,438.2"/>
<polyline class="bd" points="450.8,438.2 444.5,433.2 437,430.8 428.2,434.5 422,428.2 419.5,422 420.8,414.5 424.5,400 427,390 430.8,385 427,378.8 419.5,375 414.5,367.5 413.2,357.5 414.5,347.5 413.2,336.2"/>
<polyline class="bd" points="433.2,474.5 437,482 444.5,487 452,484.5 457,489.5 467,494.5 477,498.2 482,504.5 484.5,512 482,518.2 489.5,520.8 499.5,517 505.8,517 507,523.2 502,530.8 499.5,537 504.5,544.5 509.5,552 515.8,559.5 518.2,568.2"/>
<polyline class="bd" points="450.8,438.2 457,435.8 463.2,433.2 472,430.8 479.5,428.2 483.4,431.2 486.8,438 494.4,442.2 496.9,447.3 503.6,448.1 509.6,442.2 513.8,439.7 519.7,443.1 527.3,447.3 532.4,453.2 536.6,456.6 543.3,453.2 546.7,449 545.9,442.2 546.7,435.5 550.9,429.1"/>
<polyline class="bl" points="550.9,429.1 556,431.2 562.8,432.9 569.5,435.5 576.3,434.6 583,435.5 591.5,436.3 592.3,442.2 590.6,449 589.8,455.7 591.5,462.5 595.7,467.6 596.2,472.5"/>
<polyline class="bl" points="550.9,429.1 550,419.8"/>
<polyline class="bd" points="508.2,337.5 509.5,343.2 512,349.6 513.3,355.9 515.2,362.2 517.7,367.3 515.2,371.1 513.9,377.1 517,382.5 519.5,392.5 520.8,402.5 524.5,411.8 530,414.5 540,418.8 550,419.8"/>
<polyline class="bd" points="485.8,336.2 492,332.5 502,333.8 508.2,337.5"/>
<polyline class="bd" points="508.2,337.5 512.7,335 519,333.1 525.3,331.8 531.7,329.3 536.8,324.2 538,320.4 543.1,317.2 549.4,314.1 551.3,309 552.5,304.6"/>
<polyline class="bl" points="552.5,304.6 545.1,303.8 541.6,299.1 542.8,293.3 539.3,288.6 538.1,282.8 540.5,277 541.2,270 542.5,260 538.8,252.5 530,247.5 523.8,242.5"/>
<polyline class="bl" points="477,194.5 469.5,202.5 473.2,210 479.5,217.5 477,226.2 487,231.2 497,235 507,236.2 517,237.5 525.8,240 523.8,242.5"/>
<polyline class="bl" points="523.8,242.5 528.8,237.5 531.2,230 536.2,225 537.5,217.5 542.5,215 552.5,211.2"/>
<polyline class="bl" points="552.5,211.2 551.2,203.8 553.8,197.5 568.4,194.6 576.9,193.8 582.8,192.1 582,186.1 582,179.4 581.1,172.6 574.4,170.9 572.7,165 571.8,158.3 575.2,152.4 576.9,145.6 576,138.9 574.4,132.9"/>
<polyline class="bl" points="552.5,211.2 562.5,215 573.8,218.8 576.2,226.2 585,230 587.5,237.5 597.5,241.2 607.5,240 615,235 617.8,228.8"/>
<polyline class="bl" points="574.4,132.9 578.6,136.3 580.3,140.5 577.7,144.8 583.6,145.6 588.7,146.5 590.4,149.8 596.3,150.7 601.4,152.4 603.1,156.6 609,158.3 614.1,160 618.3,163.3 623.3,166.7 627.6,164.2 632.6,167.6 636.9,170.9 640.2,175.2 643.6,178.5 647,181.9 650.4,184.5 652.9,186.1"/>
<polyline class="bd" points="652.9,186.1 657.1,183.6 661.4,186.1 665.6,185.3 668.1,188.7 672.3,190.4 675.7,192.1"/>
<polyline class="bd" points="675.7,192.1 674,184.5 676.6,179.4 681.6,174.3 686.7,170.9 693.4,166.7 698.5,162.5 703.6,163.3 708.6,158.3 713.7,153.2 724,148.8 726.5,143.8 729,141.2"/>
<polyline class="bl" points="652.9,186.1 651.5,192.5 644,200 635.2,203.8 631.5,208.8 626.5,210 627.8,218.8 620.2,225 617.8,228.8"/>
<polyline class="bl" points="617.8,228.8 621.5,235 621.5,240 620.2,250 617.8,260 617.3,270 616.1,275.8 612.7,280.5 611.5,286.3 613.8,291 606.8,293.3 604.5,297.9 598.1,303"/>
<polyline class="bl" points="552.5,304.6 559.6,299.5 563.4,297.6 568.4,294.4 576,296.3 581.1,299.5 588.7,298.2 596.3,301.4 598.1,303"/>
<polyline class="bd" points="598.1,303 596.6,307.3 598.1,310.2 599.8,311.9"/>
<polyline class="bd" points="599.8,311.9 605.7,310.7 610.3,313.1 613.8,314.8 620.8,313.1 626.6,310.2 634.8,308.4 640,307.8 646.5,310 654,306.2 659.8,305"/>
<polyline class="bl" points="659.8,305 656.3,301.5 658.9,298.1 665.6,294.7 672.4,292.2 670.7,288 668.1,284.6 669,279.5 670.7,275.3 677.4,272.8 681.7,268.5 679.1,262.6 678.3,256.7 682.5,252.5 684.2,247.4 681.7,242.4 683.3,236.5 686.7,231.4 687.6,225.5 685,220.4 686.7,215.3 692.6,208.6 698.5,203.2"/>
<polyline class="bd" points="675.7,192.1 678.3,195.1 682.5,197.6 685,201.8 687.6,205.2 692.6,203.5 696.9,201.8 698.5,203.2"/>
<polyline class="bl" points="698.5,203.2 701.1,206.9 704.5,212 707.8,217.9 713.8,217.9 718,214.5 723,218.7 728.1,223.8 733.2,226.3 738.2,229.7 743.3,233.1 748.4,237.3 752.6,240.7 755.1,237.3 760.2,239 767,242.4 772.5,246.2"/>
<polyline class="bl" points="659.8,305 669,302.5 676.5,303.8 684,308.8 689,313.8 696.5,316.2 704,315 711.5,320 719,317.5 726.5,318.8 734,323.8 741.5,326.2 753.8,326.2"/>
<polyline class="bd" points="599.8,311.9 600.4,318.9 599.8,324.7 602.2,332.9 605.7,337.5 610.3,343.3 614,346.2 611.9,348.6"/>
<polyline class="bl" points="611.9,348.6 609,348.3 607.7,353.4 609,358.4 607.7,364.8 601.4,367.3 593.8,368.6 588.7,371.1 581.1,369.8 577.3,373.7 576,377.1 562.5,383.8 557.5,387.5 555,392.5 552.5,397.5 553.8,405 551.2,412.5 550,419.8"/>
<polyline class="bl" points="611.9,348.6 617.8,355 622.8,362.5 626.5,370 629,377.5 632.8,385 639,388.8 642.8,392.5 636.5,396.2 634,400 636.5,406.2 639,411.8 641.2,415 645,422.5 643.8,430 646.2,437.5 648.8,447.5"/>
<circle cx="135" cy="182.5" r="12.3" class="k1"/><circle cx="160.5" cy="182.5" r="12.3" class="k2"/>
<text x="142.5" y="160.5" class="lb">Видин</text>
<text x="135" y="185.9" class="nm">0</text><text x="160.5" y="185.9" class="nm">0</text>
<circle cx="182.5" cy="229" r="12.3" class="k1"/><circle cx="209.5" cy="229" r="12.3" class="k2"/>
<text x="196.5" y="213.5" class="lb">Монтана</text>
<text x="182.5" y="232.4" class="nm">12</text><text x="209.5" y="232.4" class="nm">14</text>
<circle cx="248" cy="252.5" r="12.3" class="k1"/><circle cx="274.5" cy="252.5" r="12.3" class="k2"/>
<text x="261.5" y="233.0" class="lb">Враца</text>
<text x="248" y="255.9" class="nm">8</text><text x="274.5" y="255.9" class="nm">33</text>
<circle cx="353" cy="234" r="12.3" class="k1"/><circle cx="379.5" cy="234" r="12.3" class="k2"/>
<text x="367.5" y="217.0" class="lb">Плевен</text>
<text x="353" y="237.4" class="nm">7</text><text x="379.5" y="237.4" class="nm">19</text>
<circle cx="506.5" cy="201.5" r="12.3" class="k1"/><circle cx="532.5" cy="201.5" r="12.3" class="k2"/>
<text x="535" y="184.0" class="lb">Русе</text>
<text x="506.5" y="204.9" class="nm">20</text><text x="532.5" y="204.9" class="nm">38</text>
<circle cx="646" cy="156.5" r="12.3" class="k1"/><circle cx="671.5" cy="156.5" r="12.3" class="k2"/>
<text x="657" y="141.0" class="lb">Силистра</text>
<text x="646" y="159.9" class="nm">5</text><text x="671.5" y="159.9" class="nm">7</text>
<circle cx="588.5" cy="209.5" r="12.3" class="k1"/><circle cx="614" cy="209.5" r="12.3" class="k2"/>
<text x="609" y="193.5" class="lb">Разград</text>
<text x="588.5" y="212.9" class="nm">7</text><text x="614" y="212.9" class="nm">21</text>
<circle cx="756" cy="214.5" r="12.3" class="k1"/><circle cx="782" cy="214.5" r="12.3" class="k2"/>
<text x="764" y="194.5" class="lb">Добрич</text>
<text x="756" y="217.9" class="nm">46</text><text x="782" y="217.9" class="nm">105</text>
<circle cx="635.5" cy="265" r="12.3" class="k1"/><circle cx="661.5" cy="265" r="12.3" class="k2"/>
<text x="650" y="246.5" class="lb">Шумен</text>
<text x="635.5" y="268.4" class="nm">13</text><text x="661.5" y="268.4" class="nm">25</text>
<circle cx="561.5" cy="279" r="12.3" class="k1"/><circle cx="587.5" cy="279" r="12.3" class="k2"/>
<text x="580.5" y="264.0" class="lb">Търговище</text>
<text x="561.5" y="282.4" class="nm">7</text><text x="587.5" y="282.4" class="nm">33</text>
<circle cx="495" cy="285" r="12.3" class="k1"/><circle cx="522" cy="285" r="12.3" class="k2"/>
<text x="485" y="269.5" class="lb">Велико Търново</text>
<text x="495" y="288.4" class="nm">19</text><text x="522" y="288.4" class="nm">28</text>
<circle cx="699" cy="291" r="12.3" class="k1"/><circle cx="726" cy="292" r="13.8" class="k2"/>
<text x="719" y="274.5" class="lb">Варна</text>
<text x="699" y="294.4" class="nm">136</text><text x="726" y="295.4" class="nm">1492</text>
<circle cx="339" cy="311" r="12.3" class="k1"/><circle cx="366" cy="311" r="12.3" class="k2"/>
<text x="353.5" y="292.0" class="lb">Ловеч</text>
<text x="339" y="314.4" class="nm">13</text><text x="366" y="314.4" class="nm">13</text>
<circle cx="435" cy="319.5" r="12.3" class="k1"/><circle cx="460.5" cy="319.5" r="12.3" class="k2"/>
<text x="442" y="304.5" class="lb">Габрово</text>
<text x="435" y="322.9" class="nm">23</text><text x="460.5" y="322.9" class="nm">36</text>
<circle cx="547" cy="355.5" r="12.3" class="k1"/><circle cx="572.5" cy="355.5" r="12.3" class="k2"/>
<text x="561" y="335.0" class="lb">Сливен</text>
<text x="547" y="358.9" class="nm">30</text><text x="572.5" y="358.9" class="nm">50</text>
<circle cx="660.5" cy="391" r="12.3" class="k1"/><circle cx="687" cy="391" r="12.3" class="k2"/>
<text x="673.5" y="373.0" class="lb">Бургас</text>
<text x="660.5" y="394.4" class="nm">141</text><text x="687" y="394.4" class="nm">553</text>
<circle cx="588" cy="410.8" r="12.3" class="k1"/><circle cx="614.3" cy="410.2" r="12.3" class="k2"/>
<text x="600.2" y="393.5" class="lb">Ямбол</text>
<text x="588" y="414.2" class="nm">10</text><text x="614.3" y="413.59999999999997" class="nm">23</text>
<circle cx="464" cy="394" r="12.3" class="k1"/><circle cx="489.5" cy="394" r="12.3" class="k2"/>
<text x="472" y="376.5" class="lb">Стара Загора</text>
<text x="464" y="397.4" class="nm">74</text><text x="489.5" y="397.4" class="nm">269</text>
<circle cx="272.4" cy="343.4" r="12.3" class="k1"/><circle cx="299.4" cy="343.4" r="12.3" class="k2"/>
<text x="285" y="326.7" class="lb">София</text>
<text x="272.4" y="346.79999999999995" class="nm">111</text><text x="299.4" y="346.79999999999995" class="nm">144</text>
<circle cx="154.5" cy="367.5" r="12.3" class="k1"/><circle cx="179" cy="367" r="12.3" class="k2"/>
<text x="154.5" y="344.0" class="lb">Перник</text>
<text x="154.5" y="370.9" class="nm">54</text><text x="179" y="370.4" class="nm">82</text>
<circle cx="163" cy="422.5" r="12.3" class="k1"/><circle cx="189" cy="422.5" r="12.3" class="k2"/>
<text x="159.5" y="408.0" class="lb">Кюстендил</text>
<text x="163" y="425.9" class="nm">17</text><text x="189" y="425.9" class="nm">23</text>
<circle cx="204.5" cy="505" r="12.3" class="k1"/><circle cx="231.5" cy="505" r="12.3" class="k2"/>
<text x="216.5" y="483.0" class="lb">Благоевград</text>
<text x="204.5" y="508.4" class="nm">61</text><text x="231.5" y="508.4" class="nm">260</text>
<circle cx="294" cy="455.5" r="12.3" class="k1"/><circle cx="321" cy="455.5" r="12.3" class="k2"/>
<text x="304" y="437.5" class="lb">Пазарджик</text>
<text x="294" y="458.9" class="nm">58</text><text x="321" y="458.9" class="nm">226</text>
<circle cx="373" cy="442" r="12.3" class="k1"/><circle cx="399.5" cy="442" r="12.3" class="k2"/>
<text x="384.5" y="416.5" class="lb">Пловдив</text>
<text x="373" y="445.4" class="nm">196</text><text x="399.5" y="445.4" class="nm">581</text>
<circle cx="364.5" cy="522" r="12.3" class="k1"/><circle cx="391.5" cy="523" r="12.3" class="k2"/>
<text x="354.5" y="503.0" class="lb">Смолян</text>
<text x="364.5" y="525.4" class="nm">7</text><text x="391.5" y="526.4" class="nm">11</text>
<circle cx="446.5" cy="550.5" r="12.3" class="k1"/><circle cx="474" cy="550.5" r="12.3" class="k2"/>
<text x="456" y="535.5" class="lb">Кърджали</text>
<text x="446.5" y="553.9" class="nm">27</text><text x="474" y="553.9" class="nm">108</text>
<circle cx="501.5" cy="491.5" r="12.3" class="k1"/><circle cx="528.5" cy="491.5" r="12.3" class="k2"/>
<text x="514.5" y="474.0" class="lb">Хасково</text>
<text x="501.5" y="494.9" class="nm">44</text><text x="528.5" y="494.9" class="nm">125</text>
<circle cx="211.5" cy="357" r="12.3" class="k1"/><circle cx="240" cy="357.2" r="13.5" class="k2"/>
<text x="221.5" y="327.7" class="lb">София</text><text x="228.5" y="342.2" class="lb">(столица)</text>
<text x="211.5" y="360.4" class="nm">170</text><text x="240" y="361" class="nm">1493</text>
</svg>
<div class="s" style="left:88px;width:200px;top:591px">Средна жилищна площ на едно</div>
<div class="s" style="left:88px;width:200px;top:605px">новопостроено жилище - кв. м</div>
<div class="ln" style="left:95px;width:174px;top:624.6px"></div>
<div class="sw" style="left:95.4px;width:34.2px;background:linear-gradient(90deg,#afc7f8,#c3d5fb)"></div>
<div class="sw" style="left:130.6px;width:33.4px;background:linear-gradient(90deg,#5a9ff0,#7ab2f5)"></div>
<div class="sw" style="left:165px;width:34.1px;background:linear-gradient(90deg,#1c74da,#2585e6)"></div>
<div class="sw" style="left:200.2px;width:33.8px;background:linear-gradient(90deg,#1f44bd,#2450c8)"></div>
<div class="sw" style="left:235px;width:33.7px;background:linear-gradient(90deg,#10109a,#141490)"></div>
<div class="s" style="left:99px;width:60px;top:653px">&lt;60.0</div>
<div class="s" style="left:141px;width:60px;top:653px">70.0</div>
<div class="s" style="left:175px;width:60px;top:653px">80.0</div>
<div class="s" style="left:214px;width:60px;top:653px">&gt;90.0</div>
<div class="s" style="left:350px;width:200px;top:605px">Общо за страната - 75.2 кв. м</div>
<div class="s" style="left:553.5px;width:300px;top:591.5px">Въведени в експлоатация новопостроени</div>
<div class="s" style="left:553.5px;width:300px;top:605.5px">жилищни сгради и жилища - брой</div>
<div class="ln" style="left:565px;width:274px;top:624.6px"></div>
<div class="s" style="left:543.5px;top:645.6px;text-align:left">Общо за страната:&nbsp; Сгради</div>
<div class="cc k1b" style="left:706.3px;top:637.4px;width:29.4px;height:29.4px;line-height:31.6px;background:#778bef">1316</div>
<div class="s" style="left:742.5px;top:645.6px;text-align:left">Жилища</div>
<div class="cc" style="left:794.8px;top:638.2px;width:29.6px;height:29.6px;line-height:32.4px;background:#8c08a4">5812</div>
</body></html>
